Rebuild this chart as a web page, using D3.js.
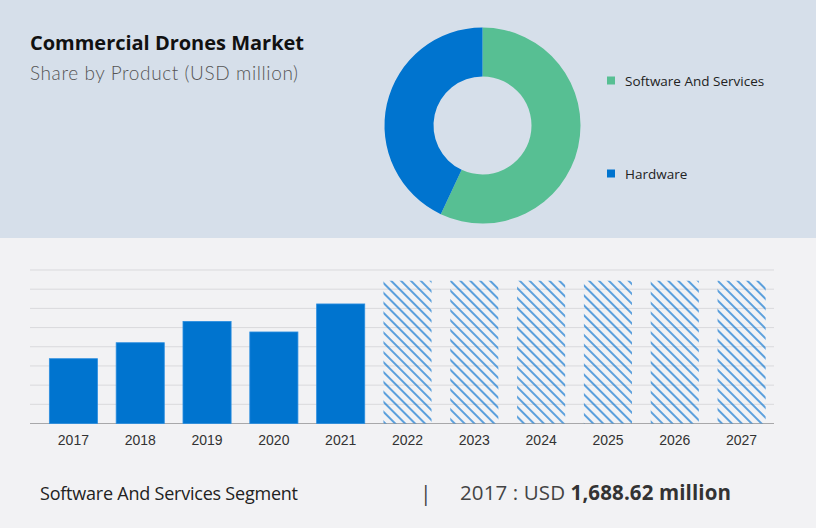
<!DOCTYPE html>
<html>
<head>
<meta charset="utf-8">
<script src="https://cdn.jsdelivr.net/npm/d3@7"></script>
<style>
  body { margin: 0; background: #f2f2f4; }
  svg { display: block; }
</style>
</head>
<body>
<div id="chart-area"></div>
<script>
// data
var years = ["2017", "2018", "2019", "2020", "2021", "2022", "2023", "2024", "2025", "2026", "2027"];
var actualValues = [1688.62, 2105, 2660, 2385, 3115];
var forecastValues = [3720, 3720, 3720, 3720, 3720, 3720];
var yTicks = [0, 500, 1000, 1500, 2000, 2500, 3000, 3500, 4000];
var segments = ["Software And Services", "Hardware"];
var segmentShares = [57, 43];
var segmentColors = ["#57bf93", "#0074cf"];

var width = 816, height = 528;

var svg = d3.select("#chart-area")
  .append("svg")
    .attr("width", width)
    .attr("height", height);

// backgrounds
svg.append("rect").attr("width", width).attr("height", height).attr("fill", "#f2f2f4");
svg.append("rect").attr("width", width).attr("height", 238).attr("fill", "#d6dfea");

// hatch pattern for forecast bars
var defs = svg.append("defs");
var pat = defs.append("pattern")
  .attr("id", "hatch")
  .attr("patternUnits", "userSpaceOnUse")
  .attr("width", 7)
  .attr("height", 7)
  .attr("patternTransform", "rotate(-45)");
pat.append("line")
  .attr("x1", 1).attr("y1", 0)
  .attr("x2", 1).attr("y2", 7)
  .attr("stroke", "#0a74d0")
  .attr("stroke-width", 1.3);

// titles
svg.append("text")
  .attr("x", 30).attr("y", 50)
  .attr("font-family", "'Open Sans', 'Noto Sans', sans-serif")
  .attr("font-weight", "bold")
  .attr("font-size", "20px")
  .attr("fill", "#111")
  .attr("textLength", 274)
  .text("Commercial Drones Market");

svg.append("text")
  .attr("x", 30).attr("y", 80)
  .attr("font-family", "Lato, 'DejaVu Sans', sans-serif")
  .attr("font-weight", 300)
  .attr("font-size", "19px")
  .attr("fill", "#555")
  .attr("textLength", 268)
  .text("Share by Product (USD million)");

// donut
var pie = d3.pie().sort(null).value(function(d) { return d; });
var arc = d3.arc().innerRadius(49).outerRadius(98);
var donut = svg.append("g").attr("transform", "translate(482.5,125.5)");
donut.selectAll("path")
  .data(pie(segmentShares))
  .enter().append("path")
    .attr("d", arc)
    .attr("fill", function(d, i) { return segmentColors[i]; });

// legend
var legendY = [80.5, 173.5];
var legend = svg.selectAll(".legend")
  .data(segments)
  .enter().append("g")
    .attr("class", "legend")
    .attr("transform", function(d, i) { return "translate(607," + legendY[i] + ")"; });
legend.append("rect")
  .attr("x", 0).attr("y", -4)
  .attr("width", 8).attr("height", 8)
  .attr("fill", function(d, i) { return segmentColors[i]; });
legend.append("text")
  .attr("x", 18).attr("y", 5)
  .attr("font-family", "'Open Sans', 'Noto Sans', sans-serif")
  .attr("font-size", "13.5px")
  .attr("fill", "#222")
  .text(function(d) { return d; });

// bar chart scales
var x = d3.scaleBand()
  .domain(years)
  .range([40, 775])
  .paddingInner(0.28)
  .paddingOuter(0.14);
var y = d3.scaleLinear()
  .domain([0, 4000])
  .range([423.5, 270]);

// gridlines
svg.append("g").selectAll("line")
  .data(yTicks)
  .enter().append("line")
    .attr("x1", 30).attr("x2", 774)
    .attr("y1", function(d) { return y(d); })
    .attr("y2", function(d) { return y(d); })
    .attr("stroke", function(d) { return d === 0 ? "#a8a8aa" : "#d9d9dc"; })
    .attr("stroke-width", 1);

// actual bars
svg.append("g").selectAll("rect")
  .data(actualValues)
  .enter().append("rect")
    .attr("x", function(d, i) { return x(years[i]); })
    .attr("y", function(d) { return y(d); })
    .attr("width", x.bandwidth())
    .attr("height", function(d) { return y(0) - y(d); })
    .attr("fill", "#0074cf")
    .attr("stroke", "#2b8ee0")
    .attr("stroke-width", 0.8);

// forecast bars
var forecastYears = years.slice(actualValues.length);
svg.append("g").selectAll("rect")
  .data(forecastValues)
  .enter().append("rect")
    .attr("x", function(d, i) { return x(forecastYears[i]); })
    .attr("y", function(d) { return y(d); })
    .attr("width", x.bandwidth())
    .attr("height", function(d) { return y(0) - y(d); })
    .attr("fill", "url(#hatch)");

// x axis
var xAxis = d3.axisBottom(x).tickSize(0).tickPadding(12);
var xAxisGroup = svg.append("g")
  .attr("transform", "translate(0," + y(0) + ")")
  .call(xAxis);
xAxisGroup.select(".domain").remove();
xAxisGroup.selectAll("text")
  .attr("font-family", "'Liberation Sans', Arial, sans-serif")
  .attr("font-size", "14px")
  .attr("fill", "#333");

// footer
svg.append("text")
  .attr("x", 40).attr("y", 500)
  .attr("font-family", "'Open Sans', 'Noto Sans', sans-serif")
  .attr("font-size", "18px")
  .attr("fill", "#222")
  .attr("textLength", 258)
  .text("Software And Services Segment");

svg.append("text")
  .attr("x", 420).attr("y", 501)
  .attr("font-family", "'Open Sans', 'Noto Sans', sans-serif")
  .attr("font-size", "21px")
  .attr("fill", "#444")
  .text("|");

var footerValue = svg.append("text")
  .attr("x", 460).attr("y", 500)
  .attr("font-family", "'Open Sans', 'Noto Sans', sans-serif")
  .attr("font-size", "20.5px")
  .attr("fill", "#444")
  .attr("textLength", 271);
footerValue.append("tspan").text(years[0] + " : USD ");
footerValue.append("tspan")
  .attr("font-weight", "bold")
  .attr("fill", "#333")
  .text(d3.format(",.2f")(actualValues[0]) + " million");
</script>
</body>
</html>
